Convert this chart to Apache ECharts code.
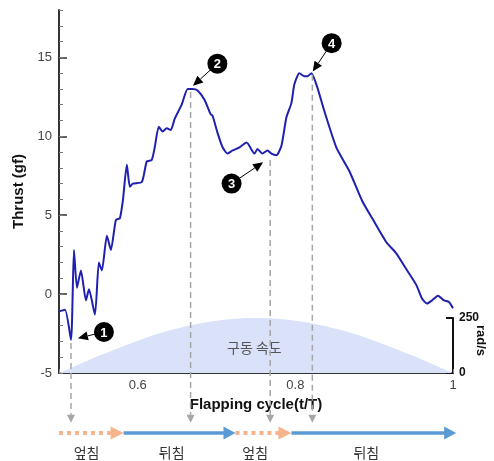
<!DOCTYPE html>
<html>
<head>
    <meta charset="utf-8">
    <title>Thrust</title>
    <script src="https://cdn.jsdelivr.net/npm/echarts@6/dist/echarts.min.js"></script>
    <style>
        * { margin: 0; padding: 0; }
        body { background: #fff; }
    </style>
</head>
<body>
    <div id="main" style="width: 494px; height: 461px;"></div>
    <script type="text/javascript">
        // thrust curve (t/T, gf)
        var tValues = [0.5, 0.5076, 0.5152, 0.519, 0.5228, 0.5278, 0.5342, 0.538, 0.5456, 0.5506,
            0.5544, 0.5608, 0.5658, 0.5722, 0.5772, 0.581, 0.5861, 0.5899, 0.5937, 0.6051,
            0.6114, 0.6177, 0.6215, 0.6266, 0.6316, 0.6367, 0.6418, 0.6468, 0.6557, 0.6633,
            0.6696, 0.6759, 0.6848, 0.6924, 0.6949, 0.7013, 0.7076, 0.7139, 0.7203, 0.7291,
            0.738, 0.7481, 0.7519, 0.7582, 0.7646, 0.7696, 0.7759, 0.7823, 0.7886, 0.7949,
            0.7987, 0.8051, 0.8114, 0.8152, 0.8203, 0.8278, 0.8367, 0.8519, 0.8684, 0.8848,
            0.8975, 0.9152, 0.9278, 0.9405, 0.9532, 0.9608, 0.9671, 0.9734, 0.981, 0.9886,
            0.9949, 1.0];
        var thrust = [-1.1, -1.0, -2.9, 2.8, 0.4, 1.5, -0.4, 0.3, -1.3, 2.0,
            1.5, 3.7, 2.8, 4.7, 4.8, 5.9, 8.2, 6.8, 7.0, 7.1,
            8.4, 8.5, 9.3, 10.6, 10.3, 10.5, 10.4, 11.1, 12.0, 13.0,
            13.0, 12.9, 12.3, 11.4, 11.3, 10.2, 9.3, 8.9, 9.1, 9.3,
            9.6, 8.9, 9.2, 8.9, 9.1, 8.9, 8.8, 9.4, 11.2, 12.1,
            13.3, 14.0, 13.8, 13.8, 14.0, 13.1, 11.6, 9.3, 7.8, 5.9,
            4.8, 3.3, 2.6, 1.6, 0.6, -0.3, -0.6, -0.4, -0.1, -0.4,
            -0.5, -0.9];

        // drive speed (rad/s)
        var speedT = [0.5, 0.525, 0.55, 0.575, 0.6, 0.625, 0.65, 0.675, 0.7, 0.725, 0.75,
            0.775, 0.8, 0.825, 0.85, 0.875, 0.9, 0.925, 0.95, 0.975, 1.0];
        var speed = [0, 39, 77, 113, 147, 177, 202, 223, 238, 247, 250,
            247, 238, 223, 202, 177, 147, 113, 77, 39, 0];

        // numbered markers: label, circle [t, gf], arrow tip [t, gf]
        var markers = [
            ['1', [0.557, -2.4], [0.524, -2.8]],
            ['2', [0.701, 14.6], [0.670, 13.2]],
            ['3', [0.719, 7.0], [0.759, 8.35]],
            ['4', [0.846, 15.9], [0.822, 14.1]]
        ];
        // dashed guides: t, start gf
        var guides = [[0.5152, -3.1], [0.667, 12.8], [0.768, 8.5], [0.8215, 13.9]];

        // stroke phases along the bottom
        var phaseEdges = [0.5, 0.582, 0.724, 0.795, 1.004];
        var phaseNames = ['엎침', '뒤침', '엎침', '뒤침'];
        var phaseLabelT = [0.535, 0.643, 0.749, 0.89];

        var xTicks = ['0.6', '0.8', '1'];

        var sans = '"Liberation Sans", Arial, "Noto Sans CJK KR", sans-serif';
        var kr = '"Noto Sans CJK KR", sans-serif';

        var myChart = echarts.init(document.getElementById('main'));

        var thrustData = tValues.map(function (t, i) { return [t, thrust[i]]; });
        var speedData = speedT.map(function (t, i) { return [t, speed[i]]; });

        var option = {
            backgroundColor: '#fff',
            animation: false,
            grid: [
                { left: 59, right: 41, top: 10, bottom: 88, outerBoundsMode: 'none' },
                { left: 59, right: 41, top: 318, bottom: 88, outerBoundsMode: 'none' }
            ],
            xAxis: [
                {
                    type: 'value', gridIndex: 0, min: 0.5, max: 1, interval: 0.05,
                    name: 'Flapping cycle(t/T)', nameLocation: 'middle', nameGap: 17,
                    nameTextStyle: { fontFamily: sans, fontWeight: 'bold', fontSize: 15, color: '#111' },
                    axisLine: { onZero: false, lineStyle: { color: '#333', width: 2 } },
                    axisTick: { inside: true, length: 4, lineStyle: { color: '#888' } },
                    splitLine: { show: false },
                    axisLabel: {
                        fontFamily: sans, fontSize: 13, color: '#444', margin: 6,
                        formatter: function (v) {
                            var k = Math.round(v * 10);
                            if (Math.abs(v * 10 - k) > 1e-6 || k % 2 !== 0 || k < 6) return '';
                            return xTicks[(k - 6) / 2];
                        }
                    }
                },
                {
                    type: 'value', gridIndex: 1, min: 0.5, max: 1, show: false
                }
            ],
            yAxis: [
                {
                    type: 'value', gridIndex: 0, min: -5, max: 18, interval: 5, position: 'left',
                    name: 'Thrust (gf)', nameLocation: 'middle', nameGap: 27,
                    nameTextStyle: { fontFamily: sans, fontWeight: 'bold', fontSize: 15, color: '#111' },
                    axisLine: { show: true, onZero: false, lineStyle: { color: '#333', width: 2 } },
                    axisTick: { inside: true, length: 8, lineStyle: { color: '#333', width: 1.5 } },
                    splitLine: { show: false },
                    axisLabel: { fontFamily: sans, fontSize: 13, color: '#444', margin: 7, showMaxLabel: false }
                },
                {
                    type: 'value', gridIndex: 0, min: -5, max: 18, interval: 1, position: 'left', offset: 0,
                    axisLine: { show: false, onZero: false },
                    axisTick: { inside: true, length: 4, lineStyle: { color: '#777' } },
                    splitLine: { show: false },
                    axisLabel: { show: false }
                },
                {
                    type: 'value', gridIndex: 1, min: 0, max: 250, interval: 250, position: 'right',
                    axisLine: { show: true, onZero: false, lineStyle: { color: '#111', width: 2 } },
                    axisTick: { inside: true, length: 7, lineStyle: { color: '#111', width: 2 } },
                    splitLine: { show: false },
                    axisLabel: { fontFamily: sans, fontWeight: 'bold', fontSize: 12, color: '#111', margin: 6 }
                }
            ],
            series: [
                {
                    type: 'line', xAxisIndex: 1, yAxisIndex: 2, data: speedData,
                    showSymbol: false, smooth: true, silent: true, z: 1,
                    lineStyle: { width: 0 },
                    areaStyle: { color: '#dae2f9', opacity: 1 }
                },
                {
                    type: 'line', xAxisIndex: 0, yAxisIndex: 0, data: thrustData,
                    showSymbol: false, smooth: 0.2, silent: true, z: 3,
                    lineStyle: { color: '#2020b0', width: 2 }
                }
            ]
        };

        myChart.setOption(option);

        function px(t, v) {
            return myChart.convertToPixel({ xAxisIndex: 0, yAxisIndex: 0 }, [t, v]);
        }

        function head(tip, from, len, wid, color) {
            var dx = tip[0] - from[0], dy = tip[1] - from[1];
            var d = Math.sqrt(dx * dx + dy * dy);
            var ux = dx / d, uy = dy / d;
            var bx = tip[0] - ux * len, by = tip[1] - uy * len;
            return {
                type: 'polygon', z: 20,
                shape: { points: [tip, [bx - uy * wid / 2, by + ux * wid / 2], [bx + uy * wid / 2, by - ux * wid / 2]] },
                style: { fill: color },
                back: [bx, by]
            };
        }

        var els = [];

        // dashed guide lines down to the phase row
        var guideEnd = -8.15;
        guides.forEach(function (g) {
            var a = px(g[0], g[1]);
            var b = px(g[0], guideEnd);
            var h = head(b, a, 8, 8, '#a6a6a6');
            els.push({
                type: 'line', z: 15,
                shape: { x1: a[0], y1: a[1], x2: h.back[0], y2: h.back[1] },
                style: { stroke: '#a6a6a6', lineWidth: 1.5, lineDash: [6, 4] }
            });
            delete h.back;
            els.push(h);
        });

        // numbered markers
        markers.forEach(function (m) {
            var c = px(m[1][0], m[1][1]);
            var tip = px(m[2][0], m[2][1]);
            var h = head(tip, c, 10, 9, '#000');
            els.push({
                type: 'line', z: 20,
                shape: { x1: c[0], y1: c[1], x2: h.back[0], y2: h.back[1] },
                style: { stroke: '#000', lineWidth: 1 }
            });
            delete h.back;
            els.push(h);
            els.push({
                type: 'circle', z: 21,
                shape: { cx: c[0], cy: c[1], r: 10 },
                style: { fill: '#000' }
            });
            els.push({
                type: 'text', z: 22,
                style: {
                    text: m[0], x: c[0], y: c[1] + 1, align: 'center', verticalAlign: 'middle',
                    fill: '#fff', font: 'bold 13px ' + sans
                }
            });
        });

        // phase arrows
        var rowV = -8.8;
        for (var i = 0; i < phaseNames.length; i++) {
            var a = px(phaseEdges[i], rowV);
            var b = px(phaseEdges[i + 1], rowV);
            var down = phaseNames[i] === '엎침';
            var col = down ? '#f6b48c' : '#5b9bd5';
            var h = head(b, a, down ? 13 : 12, 13, col);
            els.push({
                type: 'line', z: 15,
                shape: { x1: a[0], y1: a[1], x2: h.back[0] + 1, y2: h.back[1] },
                style: down
                    ? { stroke: col, lineWidth: 4, lineDash: [4, 4] }
                    : { stroke: col, lineWidth: 3.5 }
            });
            delete h.back;
            els.push(h);
            var lp = px(phaseLabelT[i], -10.05);
            els.push({
                type: 'text', z: 15,
                style: {
                    text: phaseNames[i], x: lp[0], y: lp[1], align: 'center', verticalAlign: 'middle',
                    fill: '#333', font: '14px ' + kr
                }
            });
        }

        // speed label
        var sp = px(0.748, -3.4);
        els.push({
            type: 'text', z: 10,
            style: {
                text: '구동 속도', x: sp[0], y: sp[1], align: 'center', verticalAlign: 'middle',
                fill: '#555', font: '14px ' + kr
            }
        });

        // unit of the speed axis, read top to bottom
        var up = myChart.convertToPixel({ xAxisIndex: 1, yAxisIndex: 2 }, [1, 125]);
        els.push({
            type: 'text', z: 10,
            x: up[0] + 28, y: up[1] - 5, rotation: -Math.PI / 2,
            style: {
                text: 'rad/s', x: 0, y: 0, align: 'center', verticalAlign: 'middle',
                fill: '#111', font: 'bold 13px ' + sans
            }
        });

        myChart.setOption({ graphic: { elements: els } });
    </script>
</body>
</html>
